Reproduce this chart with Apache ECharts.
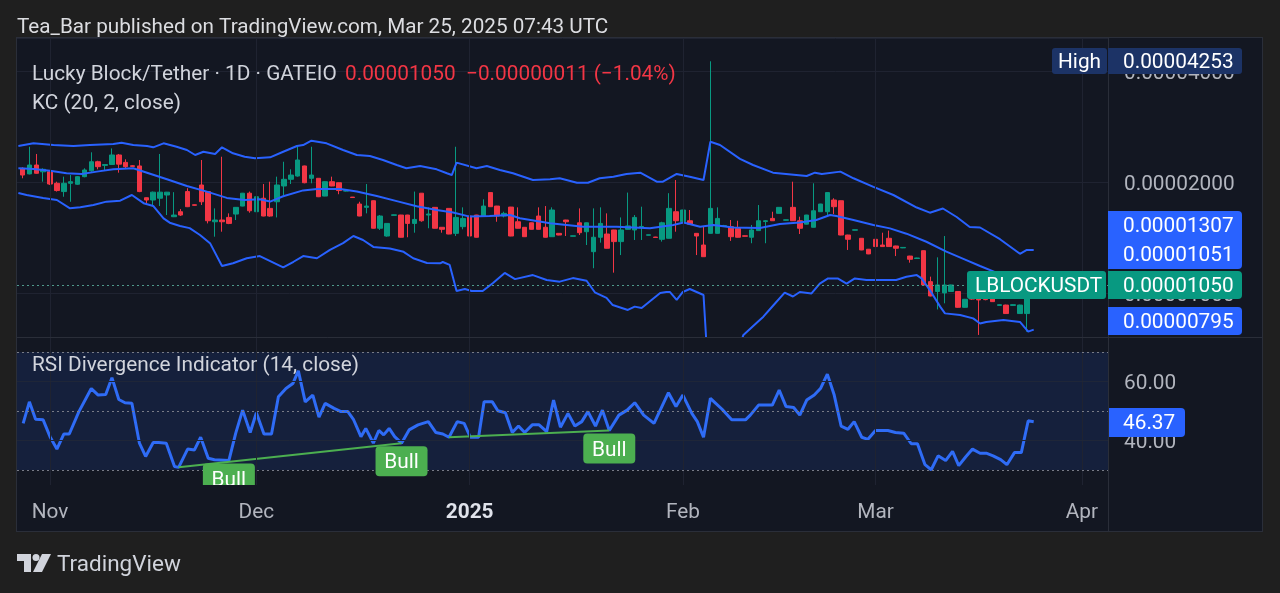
<!DOCTYPE html>
<html>
<head>
<meta charset="utf-8">
<script src="https://cdn.jsdelivr.net/npm/echarts@6/dist/echarts.min.js"></script>
<style>
html,body{margin:0;padding:0;background:#1f1f1f;}
#frame{position:absolute;left:16px;top:37px;width:1245px;height:493px;background:#131722;border:1px solid #2a2e39;}
#c{position:absolute;left:0;top:0;width:1280px;height:593px;}
</style>
</head>
<body>
<div id="frame"></div>
<div id="c"></div>
<script>
// ---------------- DATA (prices in units of 1e-8 USDT) ----------------
// bar index 0 = 2024-10-28 ; one bar per trading day
const monthTicks  = [4, 34, 65, 96, 124, 154];
const monthLabels = ['Nov', 'Dec', '2025', 'Feb', 'Mar', 'Apr'];

// [open, close, low, high]
const candles = [
[2179,2089,2047,2192],[2104,2224,2098,2493],[2224,2112,2106,2383],[2132,2165,2004,2179],[2132,1975,1963,2146],
[1984,1896,1884,2004],[1884,1984,1824,2068],[1984,2004,1768,2089],[1972,2068,1963,2076],[2068,2156,2060,2179],
[2146,2270,2132,2408],[2270,2201,2165,2284],[2219,2231,2156,2236],[2231,2368,2224,2467],[2368,2236,2120,2383],
[2261,2201,2179,2305],[2214,2205,2196,2222],[2211,1884,1877,2295],[1813,1787,1750,1816],[1787,1877,1721,1884],
[1807,1877,1721,2383],[1844,1877,1627,1880],[1610,1627,1606,1877],[1661,1627,1617,1689],[1884,1714,1710,1924],
[1735,1729,1725,1738],[1963,1768,1732,2295],[1884,1570,1544,1888],[1560,1577,1421,1696],[1577,1560,1466,2342],
[1603,1544,1537,1644],[1637,1707,1577,1710],[1721,1865,1718,1868],[1865,1671,1651,1884],[1661,1824,1644,1865],
[1807,1617,1614,1975],[1696,1617,1610,2004],[1768,1963,1603,2068],[1951,2034,1844,2270],[2034,2089,1975,2165],
[2076,2295,2068,2493],[2211,1991,1984,2215],[2047,2089,1984,2493],[2047,1824,1820,2050],[1832,2004,1830,2008],
[2004,1951,1948,2068],[1991,1896,1853,1995],[1890,1893,1885,1898],[1820,1815,1812,1822],[1743,1617,1615,1768],
[1707,1721,1644,1975],[1779,1498,1496,1782],[1498,1617,1482,1627],[1427,1544,1421,1547],[1624,1629,1622,1632],
[1627,1416,1414,1629],[1627,1544,1416,1629],[1544,1583,1457,1884],[1865,1570,1560,1867],[1627,1637,1498,1707],
[1707,1498,1496,1709],[1507,1488,1457,1509],[1696,1445,1443,1698],[1451,1603,1427,2493],[1513,1593,1488,1707],
[1617,1427,1425,1707],[1627,1416,1414,1629],[1617,1721,1615,1795],[1872,1714,1712,1874],[1721,1617,1560,1723],
[1617,1644,1603,1661],[1710,1427,1425,1712],[1560,1498,1496,1707],[1507,1421,1419,1509],[1550,1488,1486,1552],
[1617,1488,1486,1707],[1507,1416,1414,1721],[1421,1679,1419,1707],[1451,1436,1434,1453],[1577,1560,1427,1579],
[1425,1429,1423,1431],[1550,1457,1436,1696],[1466,1550,1349,1552],[1294,1416,1167,1696],[1416,1544,1369,1707],
[1445,1322,1320,1644],[1482,1378,1135,1484],[1378,1482,1267,1603],[1488,1520,1486,1872],[1482,1603,1392,1627],
[1511,1515,1392,1714],[1434,1438,1432,1440],[1418,1414,1412,1420],[1398,1550,1378,1560],[1407,1696,1405,1865],
[1661,1570,1466,2025],[1560,1679,1558,1681],[1570,1537,1535,1679],[1451,1427,1267,1453],[1349,1254,1252,1513],
[1451,1696,1449,4253],[1451,1593,1449,1707],[1518,1522,1510,1530],[1513,1421,1384,1577],[1498,1416,1414,1570],
[1429,1425,1423,1431],[1416,1482,1364,1529],[1476,1570,1474,1732],[1562,1570,1364,1577],[1593,1570,1568,1661],
[1644,1707,1642,1709],[1575,1579,1573,1581],[1707,1570,1568,2004],[1570,1498,1445,1610],[1537,1627,1535,1629],
[1507,1671,1505,1984],[1661,1743,1659,1745],[1661,1872,1627,1874],[1787,1714,1637,1807],[1779,1436,1434,1781],
[1436,1398,1308,1438],[1480,1484,1478,1486],[1407,1308,1306,1409],[1314,1276,1274,1316],[1398,1336,1334,1400],
[1349,1336,1334,1457],[1407,1336,1334,1476],[1341,1322,1259,1343],[1325,1329,1323,1331],[1259,1234,1208,1261],
[1240,1244,1238,1246],[1302,1051,1049,1304],[1073,981,979,1107],[1009,1051,902,1249],[1000,1051,937,1427],
[1009,1051,1007,1053],[1009,914,912,1011],[914,961,912,963],[970,962,958,985],[966,957,769,985],
[961,959,955,966],[967,947,945,969],[925,929,923,931],[927,879,877,929],[925,929,923,931],
[879,927,877,929],[879,1061,785,1065],[1061,1050,1045,1066]
];

// Keltner channel (20, 2, close) vertices: [bar position, price]
const kcUpper = [[-0.6,2504],[1.6,2547],[4.5,2520],[7.4,2504],[9.8,2520],[13.2,2536],[14.4,2557],[16.1,2520],[18.1,2504],[19.0,2484],[20.5,2547],[22.4,2494],[23.9,2443],[25.1,2368],[26.3,2417],[28.0,2383],[29.0,2484],[30.6,2393],[32.3,2343],[33.8,2321],[36.0,2334],[37.9,2417],[39.9,2504],[40.8,2520],[42.0,2589],[44.2,2547],[46.6,2443],[48.6,2368],[50.5,2353],[52.4,2295],[54.4,2224],[55.8,2179],[57.8,2211],[60.2,2165],[61.7,2112],[62.4,2089],[63.1,2258],[66.0,2179],[67.5,2211],[69.4,2156],[71.3,2112],[74.2,2025],[76.7,2034],[78.1,2047],[80.6,1991],[82.2,1991],[83.9,2047],[85.9,2068],[87.8,2104],[89.8,2120],[92.2,2004],[93.1,2004],[95.1,2104],[97.0,2068],[99.0,2025],[100.0,2573],[101.4,2520],[104.3,2311],[106.2,2224],[109.1,2120],[114.0,2076],[115.2,2120],[116.2,2104],[118.9,2134],[120.8,2047],[123.7,1941],[126.6,1844],[130.0,1705],[131.9,1651],[133.8,1695],[135.8,1607],[137.7,1510],[139.2,1505],[142.1,1399],[145.0,1277],[146.0,1308],[147.0,1307]];
const kcMiddle = [[-0.6,2179],[1.6,2170],[4.0,2147],[6.4,2112],[8.6,2104],[10.8,2134],[13.2,2165],[16.1,2179],[18.1,2120],[21.0,2034],[23.9,1951],[26.8,1883],[29.7,1811],[32.3,1787],[34.5,1795],[36.0,1770],[37.9,1830],[40.8,1898],[42.8,1915],[46.2,1915],[48.6,1885],[51.5,1833],[54.4,1775],[57.3,1718],[60.2,1679],[62.6,1652],[65.0,1611],[67.9,1617],[70.9,1627],[72.3,1594],[76.7,1545],[81.5,1512],[86.4,1512],[91.2,1497],[94.6,1529],[96.1,1553],[98.5,1512],[100.4,1529],[103.3,1505],[107.2,1500],[110.1,1538],[113.0,1553],[115.4,1577],[117.4,1627],[118.3,1617],[120.8,1577],[123.7,1529],[126.1,1497],[128.5,1448],[131.4,1377],[134.3,1294],[137.2,1228],[139.2,1183],[142.1,1125],[145.0,1084],[147.0,1051]];
const kcLower = [[-0.6,1868],[0.6,1844],[3.0,1809],[5.0,1787],[6.9,1697],[8.4,1707],[10.3,1732],[12.2,1769],[14.2,1780],[15.9,1844],[17.6,1752],[19.0,1722],[20.5,1594],[21.4,1551],[22.9,1520],[24.3,1499],[25.8,1436],[27.3,1361],[29.0,1183],[30.6,1204],[32.6,1242],[34.5,1259],[37.9,1173],[39.4,1215],[40.8,1259],[42.8,1242],[44.7,1308],[46.6,1365],[48.1,1427],[49.5,1392],[51.0,1333],[53.4,1320],[55.4,1293],[56.8,1242],[58.8,1206],[60.7,1203],[61.1,1213],[62.1,1191],[63.1,1012],[64.3,1025],[65.3,1012],[66.9,1012],[68.4,1064],[70.1,1133],[71.6,1090],[74.2,1118],[76.2,1084],[78.1,1073],[80.0,1097],[82.0,1079],[83.2,1004],[84.9,969],[85.8,927],[88.0,899],[89.0,918],[90.0,910],[92.7,1000],[93.6,1006],[94.1,1006],[95.1,957],[96.0,1006],[97.0,1025],[99.0,987],[100.0,485],[101.4,520],[103.3,640],[104.8,769],[106.7,829],[107.7,862],[109.1,923],[110.8,1002],[112.0,978],[113.0,1006],[114.7,997],[115.9,1060],[117.1,1095],[118.5,1095],[119.8,1060],[121.0,1095],[122.7,1084],[127.0,1084],[128.5,1106],[130.0,1118],[130.7,1095],[131.9,1018],[133.4,918],[134.1,880],[136.3,871],[138.2,853],[139.2,826],[140.1,834],[142.6,844],[145.0,834],[146.2,785],[147.0,795]];

// RSI (14, close): [bar position, value]
const rsi = [[0.1,45.8],[1.0,53.1],[1.9,47.2],[3.0,47.0],[4.0,41.3],[5.0,37.1],[6.0,42.2],[6.8,42.2],[8.2,49.8],[10.0,57.6],[11.0,55.4],[12.1,55.6],[13.0,61.3],[14.0,53.9],[14.9,52.8],[15.9,52.6],[17.0,39.1],[17.9,34.6],[19.0,39.3],[19.8,39.3],[20.9,39.1],[22.1,31.2],[22.7,30.9],[24.0,37.1],[25.0,36.8],[25.9,41.1],[27.0,34.0],[27.9,33.5],[30.0,33.2],[31.0,42.5],[32.0,50.3],[33.1,42.7],[34.0,49.4],[35.1,42.2],[36.2,42.2],[37.2,54.8],[38.3,57.6],[39.3,59.3],[40.1,63.6],[41.1,53.1],[42.2,55.4],[43.1,47.9],[44.0,52.6],[45.3,50.9],[46.3,49.8],[47.3,49.8],[48.1,47.2],[49.2,41.3],[49.9,44.1],[51.0,39.1],[51.8,43.4],[52.5,41.9],[53.3,44.1],[54.1,41.3],[55.1,39.1],[56.2,43.6],[57.5,45.3],[59.0,46.4],[60.1,42.7],[61.1,42.2],[62.0,41.1],[63.2,46.4],[64.2,45.8],[65.1,41.1],[66.3,41.1],[67.1,53.1],[68.3,53.1],[69.1,50.1],[70.2,49.4],[71.2,42.7],[72.1,44.9],[73.0,42.7],[74.1,45.3],[75.1,45.3],[76.2,43.0],[77.2,53.7],[78.2,44.5],[79.3,49.2],[80.3,44.9],[81.3,46.4],[82.2,49.8],[83.3,44.9],[84.3,50.3],[85.3,43.4],[86.7,48.6],[87.9,50.3],[89.0,52.8],[90.3,48.6],[91.8,45.8],[93.9,56.2],[95.0,51.5],[96.0,55.4],[97.3,49.2],[98.1,46.4],[99.0,41.1],[100.0,54.3],[101.7,50.6],[103.1,47.0],[105.1,47.0],[105.8,48.6],[107.0,52.0],[109.0,52.0],[110.0,57.1],[111.0,51.5],[112.1,51.2],[113.0,48.6],[114.0,53.7],[115.1,55.4],[116.0,57.6],[117.0,62.5],[118.0,55.4],[119.0,44.9],[120.0,43.8],[120.9,46.4],[122.0,41.1],[122.9,40.4],[124.0,43.4],[125.8,43.4],[126.9,42.7],[128.1,42.5],[129.2,38.9],[130.1,38.9],[131.2,31.8],[132.1,30.1],[133.1,34.8],[134.2,33.2],[135.2,36.3],[136.1,31.5],[137.1,34.4],[138.1,37.1],[139.2,35.7],[140.1,35.7],[141.1,34.8],[142.2,33.5],[143.1,31.8],[144.2,35.9],[145.2,35.9],[146.2,46.7],[147.0,46.37]];

const bullLines = [[[22.7,30.9],[55.1,39.1]], [[62.0,41.1],[85.3,43.4]]];
const bullMarks = [[30.0,33.2],[55.1,39.1],[85.3,43.4]];
const rsiLevelsDotted = [30, 50, 70];
const rsiLevelsSolid = [40, 60];

// ---------------- CHART ----------------
const FONT = 'Roboto, "Noto Sans", sans-serif';
const FS = 20.8;
const UP = '#089981', DOWN = '#f23645', KC = '#2962ff';
const X_MIN = -0.8, X_MAX = 157.8;
const toAxis = v => v / 1000;                      // 1e-8 units -> 1e-5 units (log-2 axis)
const pairs = arr => arr.map(p => [p[0], toAxis(p[1])]);
const candleRows = candles.map((d, i) => [i, toAxis(d[0]), toAxis(d[1]), toAxis(d[2]), toAxis(d[3])]);
const lastClose = candles[candles.length - 1][1];

const chart = echarts.init(document.getElementById('c'));

const txt = (text, x, y, fill, size, extra) => Object.assign({
  type: 'text', z: 100, x: x, y: y,
  style: { text: text, fill: fill, font: (size || FS) + 'px ' + FONT, align: 'left', verticalAlign: 'middle', textAlign: 'left', textVerticalAlign: 'middle' }
}, extra || {});
const box = (x, y, w, h, fill, r) => ({ type: 'rect', z: 99, shape: { x: x, y: y, width: w, height: h, r: r || 0 }, style: { fill: fill } });
const hline = (x1, x2, y) => ({ type: 'line', z: 50, shape: { x1: x1, y1: y, x2: x2, y2: y }, style: { stroke: '#2a2e39', lineWidth: 1 } });
const vline = (x, y1, y2) => ({ type: 'line', z: 50, shape: { x1: x, y1: y1, x2: x, y2: y2 }, style: { stroke: '#2a2e39', lineWidth: 1 } });

const graphics = [
  hline(16, 1263, 337.5),
  vline(1108.5, 38, 531),
  txt('Tea_Bar published on TradingView.com, Mar 25, 2025 07:43 UTC', 17, 28, '#dcdde1', 20.7),
  txt('Lucky Block/Tether · 1D · GATEIO', 32, 75, '#d1d4dc'),
  txt('0.00001050', 345, 75, DOWN),
  txt('\u22120.00000011 (\u22121.04%)', 466, 75, DOWN),
  txt('KC (20, 2, close)', 32, 104, '#d1d4dc'),
  txt('RSI Divergence Indicator (14, close)', 32, 366, '#d1d4dc'),
  // price-scale tags
  box(1052, 48, 55, 26, '#1c3366', 3), txt('High', 1058, 62.5, '#ffffff'),
  box(1108, 48, 134, 26, '#1c3366', [0, 3, 3, 0]), txt('0.00004253', 1123, 62.5, '#ffffff'),
  box(1108, 211, 134, 29, '#2962ff', [0, 4, 0, 0]), txt('0.00001307', 1123, 227, '#ffffff'),
  box(1108, 240, 134, 29, '#2962ff', [0, 0, 4, 0]), txt('0.00001051', 1123, 256, '#ffffff'),
  box(967, 271, 139, 28, '#089981', 3), txt('LBLOCKUSDT', 975, 286.5, '#ffffff'),
  box(1108, 271, 134, 28, '#089981', [0, 4, 4, 0]), txt('0.00001050', 1123, 286.5, '#ffffff'),
  box(1108, 307, 134, 28, '#2962ff', [0, 4, 4, 0]), txt('0.00000795', 1123, 322.5, '#ffffff'),
  box(1109, 408, 76, 29, '#2962ff', [0, 4, 4, 0]), txt('46.37', 1123, 424, '#ffffff'),
  // footer logo
  { type: 'rect', z: 100, shape: { x: 17, y: 554, width: 14, height: 7 }, style: { fill: '#d1d4dc' } },
  { type: 'rect', z: 100, shape: { x: 24, y: 554, width: 7, height: 18 }, style: { fill: '#d1d4dc' } },
  { type: 'circle', z: 100, shape: { cx: 36, cy: 557.5, r: 3.5 }, style: { fill: '#d1d4dc' } },
  { type: 'polygon', z: 100, shape: { points: [[42, 554], [51, 554], [42, 572], [33, 572]] }, style: { fill: '#d1d4dc' } },
  txt('TradingView', 57, 565, '#d1d4dc', 22.5)
];

const lvl = (v, dotted) => ({ yAxis: v, lineStyle: dotted ? { color: '#787b86', type: [2, 3], width: 1 } : { color: '#1f2638', type: 'solid', width: 1 } });
const axisRich = { p: { padding: [5, 0, 0, 0], fontSize: FS, fontFamily: FONT, color: '#b2b5be' } };

const option = {
  backgroundColor: 'transparent',
  animation: false,
  textStyle: { fontFamily: FONT },
  grid: [
    { left: 17, right: 172, top: 38, height: 299 },
    { left: 17, right: 172, top: 337, height: 148 }
  ],
  xAxis: [
    { gridIndex: 0, type: 'value', min: X_MIN, max: X_MAX, axisLine: { show: false }, axisTick: { show: false }, axisLabel: { show: false }, splitLine: { show: false } },
    { gridIndex: 1, type: 'value', min: X_MIN, max: X_MAX, axisLine: { show: false }, axisTick: { show: false }, splitLine: { show: false },
      axisLabel: {
        customValues: monthTicks,
        formatter: v => { const k = monthTicks.indexOf(v); if (k < 0) return ''; return k === 2 ? '{y|' + monthLabels[k] + '}' : monthLabels[k]; },
        color: '#b2b5be', fontSize: FS, margin: 17, fontFamily: FONT,
        rich: { y: { fontWeight: 'bold', color: '#e0e3eb', fontSize: FS, fontFamily: FONT } }
      } }
  ],
  yAxis: [
    { gridIndex: 0, type: 'log', logBase: 2, min: 0.7592, max: 4.9192, position: 'right',
      axisLine: { show: false }, axisTick: { show: false },
      axisLabel: { color: '#b2b5be', fontSize: FS, margin: 16, fontFamily: FONT, rich: axisRich,
        formatter: v => { const l = Math.log2(v); return Math.abs(l - Math.round(l)) < 1e-6 ? '{p|' + (v * 1e-5).toFixed(8) + '}' : ''; } },
      splitLine: { show: true, lineStyle: { color: '#1f2331', width: 1 } } },
    { gridIndex: 1, type: 'value', min: 24.92, max: 75.08, position: 'right',
      axisLine: { show: false }, axisTick: { show: false }, splitLine: { show: false },
      axisLabel: { color: '#b2b5be', fontSize: FS, margin: 16, fontFamily: FONT, rich: axisRich,
        formatter: v => (rsiLevelsSolid.some(s => Math.abs(v - s) < 1e-6) ? '{p|' + v.toFixed(2) + '}' : '') } }
  ],
  graphic: graphics,
  series: [
    { type: 'line', xAxisIndex: 0, yAxisIndex: 0, data: [[0, 1]], showSymbol: false, lineStyle: { opacity: 0 }, silent: true, z: 1,
      markLine: { silent: true, symbol: 'none', label: { show: false }, lineStyle: { color: '#1f2331', type: 'solid', width: 1 },
        data: monthTicks.map(v => ({ xAxis: v })) } },
    { type: 'candlestick', xAxisIndex: 0, yAxisIndex: 0, data: candleRows, encode: { x: 0, y: [1, 2, 3, 4] }, barWidth: 5, z: 2,
      itemStyle: { color: UP, color0: DOWN, borderColor: UP, borderColor0: DOWN, borderWidth: 1 },
      markLine: { silent: true, symbol: 'none', label: { show: false }, lineStyle: { color: '#4f9a8c', type: [2, 3], width: 1 },
        data: [{ yAxis: toAxis(lastClose) }] } },
    { type: 'line', xAxisIndex: 0, yAxisIndex: 0, data: pairs(kcUpper), showSymbol: false, lineStyle: { color: KC, width: 2 }, z: 3, silent: true },
    { type: 'line', xAxisIndex: 0, yAxisIndex: 0, data: pairs(kcMiddle), showSymbol: false, lineStyle: { color: KC, width: 2 }, z: 3, silent: true },
    { type: 'line', xAxisIndex: 0, yAxisIndex: 0, data: pairs(kcLower), showSymbol: false, lineStyle: { color: KC, width: 2 }, z: 3, silent: true },
    { type: 'line', xAxisIndex: 1, yAxisIndex: 1, data: [[0, 50]], showSymbol: false, lineStyle: { opacity: 0 }, silent: true, z: 1,
      markArea: { silent: true, itemStyle: { color: 'rgba(41,98,255,0.12)' }, data: [[{ yAxis: 30 }, { yAxis: 70 }]] },
      markLine: { silent: true, symbol: 'none', label: { show: false },
        data: monthTicks.map(v => ({ xAxis: v, lineStyle: { color: '#1f2331', type: 'solid', width: 1 } }))
          .concat(rsiLevelsSolid.map(v => lvl(v, false)))
          .concat(rsiLevelsDotted.map(v => lvl(v, true))) } },
    { type: 'line', xAxisIndex: 1, yAxisIndex: 1, data: rsi, showSymbol: false, lineStyle: { color: '#2f6cf6', width: 3 }, z: 3, silent: true },
    ...bullLines.map(seg => ({ type: 'line', xAxisIndex: 1, yAxisIndex: 1, data: seg, showSymbol: false, lineStyle: { color: '#4caf50', width: 2 }, z: 4, silent: true })),
    { type: 'custom', xAxisIndex: 1, yAxisIndex: 1, data: bullMarks, clip: true, z: 5, silent: true,
      renderItem: (params, api) => {
        const p = api.coord([api.value(0), api.value(1)]);
        return { type: 'group', children: [
          { type: 'rect', shape: { x: p[0] - 26, y: p[1] + 3, width: 52, height: 30, r: 4 }, style: { fill: '#4caf50' } },
          { type: 'text', x: p[0], y: p[1] + 20, style: { text: 'Bull', fill: '#ffffff', font: FS + 'px ' + FONT, align: 'center', verticalAlign: 'middle' } }
        ] };
      } }
  ]
};
chart.setOption(option);
</script>
</body>
</html>
